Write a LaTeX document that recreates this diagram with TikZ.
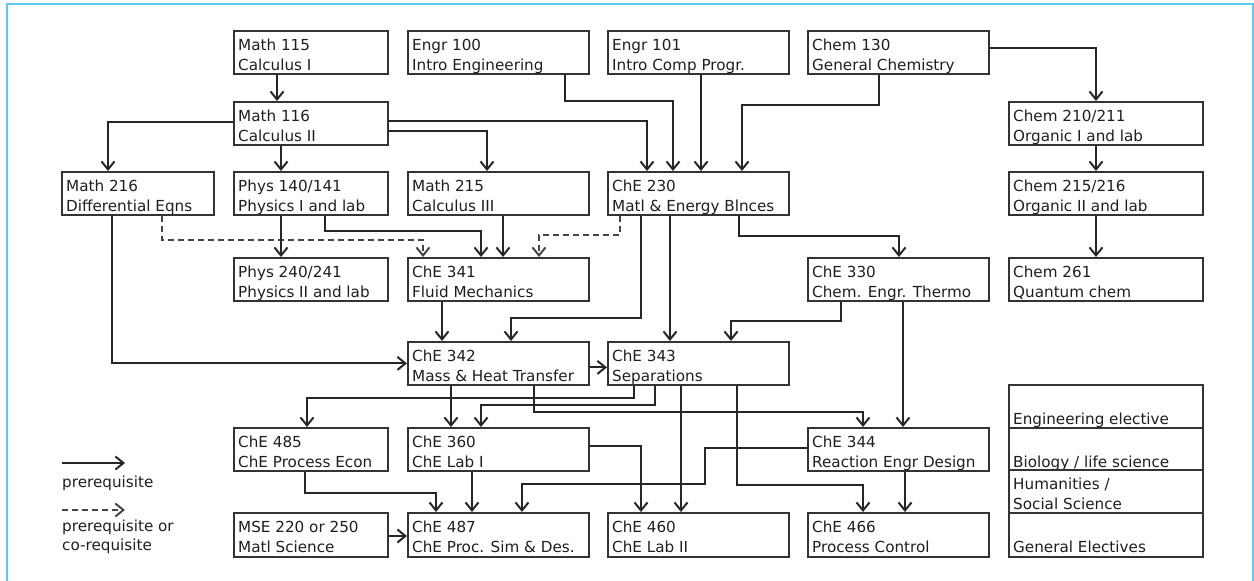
\documentclass[tikz,border=0pt]{standalone}
\usepackage{fontspec}
\setmainfont{DejaVu Sans}
\usetikzlibrary{arrows.meta}
\definecolor{lc}{HTML}{262626}
\definecolor{bc}{HTML}{333333}
\definecolor{dc}{HTML}{444444}
\definecolor{fc}{HTML}{5CC9F2}
\definecolor{tc}{HTML}{1E1E1E}
\newcommand{\course}[7]{%
  \node[box, minimum width=#4pt, minimum height=#5pt] (#1) at (#2,#3) {};
  \node[txt] (#1t) at ([xshift=5pt,yshift=-6pt]#1.north west) {\strut #6\\\strut #7};
}
\begin{document}
\begin{tikzpicture}[x=1pt,y=-1pt,
  box/.style={draw=bc, line width=1.8pt, inner sep=0pt, anchor=north west},
  txt/.style={anchor=north west, inner sep=0pt, align=left, text=tc, font=\fontsize{15.2pt}{20pt}\selectfont},
  pre/.style={draw=lc, line width=2pt, -{Straight Barb[length=8pt,width=13pt]}},
  co/.style={pre, draw=dc, dash pattern=on 6pt off 4pt},
  frame/.style={draw=fc, line width=2pt}]
\useasboundingbox (0,0) rectangle (1254,581);
\draw[frame] (6.5,581) -- (6.5,4) -- (1253,4) -- (1253,581);

% row 1
\course{m115}{233}{30}{154}{43}{Math 115}{Calculus I}
\course{e100}{407}{30}{181}{43}{Engr 100}{Intro Engineering}
\course{e101}{607}{30}{181}{43}{Engr 101}{Intro Comp Progr.}
\course{c130}{807}{30}{181}{43}{Chem 130}{General Chemistry}
% row 2
\course{m116}{233}{101}{154}{43}{Math 116}{Calculus II}
\course{c210}{1008}{101}{194}{43}{Chem 210/211}{Organic I and lab}
% row 3
\course{m216}{61}{171}{152}{43}{Math 216}{Differential Eqns}
\course{p140}{233}{171}{154}{43}{Phys 140/141}{Physics I and lab}
\course{m215}{407}{171}{181}{43}{Math 215}{Calculus III}
\course{h230}{607}{171}{181}{43}{ChE 230}{Matl \& Energy Blnces}
\course{c215}{1008}{171}{194}{43}{Chem 215/216}{Organic II and lab}
% row 4
\course{p240}{233}{257}{154}{43}{Phys 240/241}{Physics II and lab}
\course{h341}{407}{257}{181}{43}{ChE 341}{Fluid Mechanics}
\course{h330}{807}{257}{181}{43}{ChE 330}{Chem. Engr. Thermo}
\course{c261}{1008}{257}{194}{43}{Chem 261}{Quantum chem}
% row 5
\course{h342}{407}{341}{181}{43}{ChE 342}{Mass \& Heat Transfer}
\course{h343}{607}{341}{181}{43}{ChE 343}{Separations}
% row 6
\course{h485}{233}{427}{154}{43}{ChE 485}{ChE Process Econ}
\course{h360}{407}{427}{181}{43}{ChE 360}{ChE Lab I}
\course{h344}{807}{427}{181}{43}{ChE 344}{Reaction Engr Design}
% row 7
\course{mse}{233}{512}{154}{44}{MSE 220 or 250}{Matl Science}
\course{h487}{407}{512}{181}{44}{ChE 487}{ChE Proc. Sim \& Des.}
\course{h460}{607}{512}{181}{44}{ChE 460}{ChE Lab II}
\course{h466}{807}{512}{181}{44}{ChE 466}{Process Control}
% electives
\course{el1}{1008}{384}{194}{43}{}{Engineering elective}
\course{el2}{1008}{427}{194}{42}{}{Biology / life science}
\course{el3}{1008}{469}{194}{43}{Humanities /}{Social Science}
\course{el4}{1008}{512}{194}{44}{}{General Electives}

% connectors
\draw[pre] ([xshift=44pt]m115.south west) -- ([xshift=44pt]m116.north west);
\draw[pre] ([yshift=-21pt]m116.north west) -| ([xshift=47pt]m216.north west);
\draw[pre] ([xshift=48pt]m116.south west) -- ([xshift=48pt]p140.north west);
\draw[pre] ([yshift=-20pt]m116.north east) -| ([xshift=40pt]h230.north west);
\draw[pre] ([yshift=-30pt]m116.north east) -| ([xshift=80pt]m215.north west);
\draw[pre] ([xshift=158pt]e100.south west) -- ++(0,26) -| ([xshift=66pt]h230.north west);
\draw[pre] ([xshift=94pt]e101.south west) -- ([xshift=94pt]h230.north west);
\draw[pre] ([xshift=72pt]c130.south west) -- ++(0,30) -| ([xshift=135pt]h230.north west);
\draw[pre] ([yshift=-18pt]c130.north east) -| ([xshift=88pt]c210.north west);
\draw[pre] ([xshift=88pt]c210.south west) -- ([xshift=88pt]c215.north west);
\draw[pre] ([xshift=88pt]c215.south west) -- ([xshift=88pt]c261.north west);

\draw[pre] ([xshift=51pt]m216.south west) |- (h342.west);
\draw[co] ([xshift=101pt]m216.south west) -- ++(0,24) -| ([xshift=16pt]h341.north west);
\draw[pre] ([xshift=48pt]p140.south west) -- ([xshift=48pt]p240.north west);
\draw[pre] ([xshift=92pt]p140.south west) -- ++(0,15) -| ([xshift=74pt]h341.north west);
\draw[pre] ([xshift=96pt]m215.south west) -- ([xshift=96pt]h341.north west);
\draw[co] ([xshift=13pt]h230.south west) -- ++(0,19) -| ([xshift=132pt]h341.north west);
\draw[pre] ([xshift=34pt]h230.south west) -- ++(0,102) -| ([xshift=104pt]h342.north west);
\draw[pre] ([xshift=35pt]h341.south west) -- ([xshift=35pt]h342.north west);
\draw[pre] ([xshift=63pt]h230.south west) -- ([xshift=63pt]h343.north west);
\draw[pre] ([xshift=132pt]h230.south west) -- ++(0,20) -| ([xshift=92pt]h330.north west);
\draw[pre] ([xshift=34pt]h330.south west) -- ++(0,19) -| ([xshift=124pt]h343.north west);
\draw[pre] ([xshift=96pt]h330.south west) -- ([xshift=96pt]h344.north west);

\draw[pre] ([yshift=-4pt]h342.east) -- ([yshift=-4pt]h343.west);
\draw[pre] ([xshift=27pt]h343.south west) -- ++(0,12) -| ([xshift=74pt]h485.north west);
\draw[pre] ([xshift=44pt]h342.south west) -- ([xshift=44pt]h360.north west);
\draw[pre] ([xshift=48pt]h343.south west) -- ++(0,19) -| ([xshift=74pt]h360.north west);
\draw[pre] ([xshift=127pt]h342.south west) -- ++(0,26) -| ([xshift=56pt]h344.north west);
\draw[pre] ([xshift=74pt]h343.south west) -- ([xshift=74pt]h460.north west);
\draw[pre] ([xshift=130pt]h343.south west) -- ++(0,99) -| ([xshift=56pt]h466.north west);
\draw[pre] ([yshift=-19pt]h360.north east) -| ([xshift=34pt]h460.north west);
\draw[pre] ([xshift=65pt]h360.south west) -- ([xshift=65pt]h487.north west);
\draw[pre] ([xshift=72pt]h485.south west) -- ++(0,21) -| ([xshift=29pt]h487.north west);
\draw[pre] ([yshift=-21pt]h344.north west) -- ++(-102,0) -- ++(0,36) -| ([xshift=115pt]h487.north west);
\draw[pre] ([yshift=-24pt]mse.north east) -- ([yshift=-24pt]h487.north west);
\draw[pre] ([xshift=98pt]h344.south west) -- ([xshift=98pt]h466.north west);

% legend
\coordinate (la1) at (62,463);
\coordinate (la2) at (125,463);
\coordinate (lb1) at (62,510);
\coordinate (lb2) at (125,510);
\draw[pre] (la1) -- (la2);
\draw[co] (lb1) -- (lb2);
\node[txt, anchor=base west] (lt1) at (62,487) {prerequisite};
\node[txt, anchor=north west, font=\fontsize{15.2pt}{19pt}\selectfont] (lt2) at (62,518) {\strut prerequisite or\\\strut co-requisite};
\end{tikzpicture}
\end{document}
